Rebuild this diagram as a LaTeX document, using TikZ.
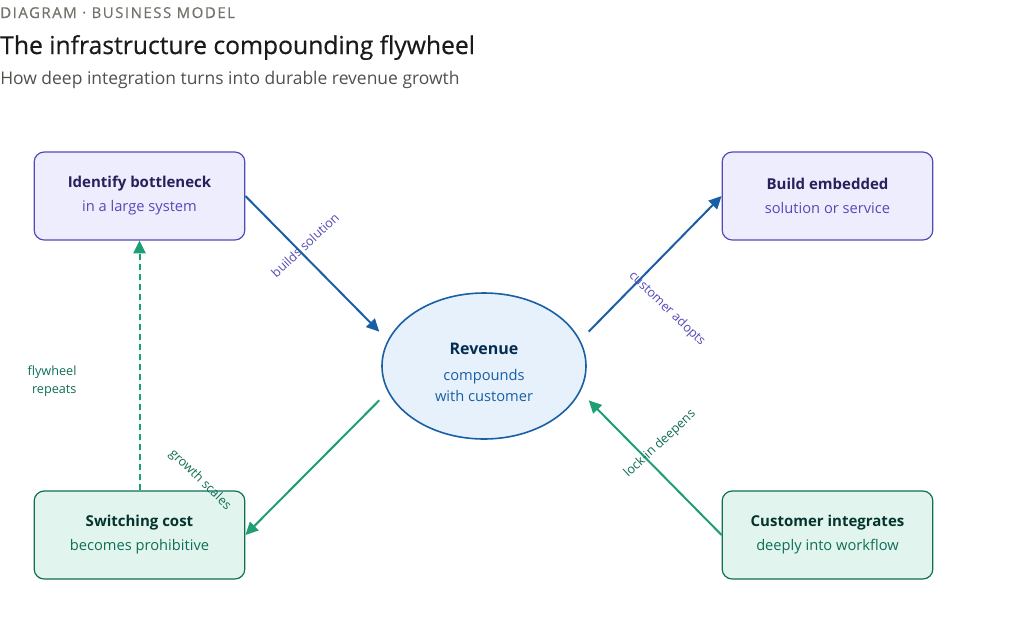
\documentclass[tikz,border=0pt]{standalone}
\usepackage{fontspec}
\setmainfont{Open Sans}
\usetikzlibrary{arrows.meta, positioning, shapes.geometric}

\definecolor{purplefill}{HTML}{EEEDFE}
\definecolor{purpleline}{HTML}{534AB7}
\definecolor{purpledark}{HTML}{26215C}
\definecolor{tealfill}{HTML}{E1F5EE}
\definecolor{tealline}{HTML}{0F6E56}
\definecolor{tealdark}{HTML}{04342C}
\definecolor{tealarrow}{HTML}{1D9E75}
\definecolor{bluefill}{HTML}{E6F1FB}
\definecolor{blueline}{HTML}{185FA5}
\definecolor{bluedark}{HTML}{042C53}
\definecolor{headgray}{HTML}{73726C}
\definecolor{inkblack}{HTML}{1A1A1A}

\begin{document}
\begin{tikzpicture}[
  x=0.75pt, y=-0.75pt,
  >={Triangle[length=9.5pt,width=9pt]},
  font=\fontsize{10.5pt}{13pt}\selectfont,
  card/.style={
    rectangle, rounded corners=7.5pt,
    draw, line width=0.9pt, align=center,
    inner sep=0pt,
    minimum width=158pt, minimum height=66pt,
  },
  idea/.style={card, fill=purplefill, draw=purpleline},
  sticky/.style={card, fill=tealfill, draw=tealline},
  hub/.style={ellipse, fill=bluefill, draw=blueline, line width=1.2pt,
    align=center, inner sep=0pt, minimum width=153pt, minimum height=109.5pt,
    font=\fontsize{11pt}{15.75pt}\selectfont},
  blueflow/.style={->, line width=1.5pt, draw=blueline, fill=blueline},
  tealflow/.style={->, line width=1.5pt, draw=tealarrow, fill=tealarrow},
  purplelbl/.style={text=purpleline, font=\fontsize{9.5pt}{11pt}\selectfont, inner sep=1pt},
  teallbl/.style={text=tealline, font=\fontsize{9.5pt}{11pt}\selectfont, inner sep=1pt},
]
\useasboundingbox (0,0) rectangle (1024,622);

% --- Header ---
\node[anchor=base west, inner sep=0pt, text=headgray,
  font=\fontsize{11.25pt}{12pt}\selectfont\addfontfeature{LetterSpace=10,FakeBold=0.4}]
  (kicker) at (0,18) {DIAGRAM · BUSINESS MODEL};
\node[anchor=base west, inner sep=0pt, text=inkblack,
  font=\fontsize{18.5pt}{20pt}\selectfont\addfontfeature{FakeBold=0.5}]
  (title) at (0,54) {The infrastructure compounding flywheel};
\node[anchor=base west, inner sep=0pt, text=headgray!70!black,
  font=\fontsize{13.1pt}{15pt}\selectfont]
  (subtitle) at (0,84) {How deep integration turns into durable revenue growth};

% --- Cards ---
\node[idea] (ID) at (139.5,196) {{\fontsize{11.25pt}{13pt}\selectfont\bfseries\color{purpledark}Identify bottleneck}\\[5pt]{\fontsize{11pt}{13pt}\selectfont\color{purpleline}in a large system}};
\node[idea] (BE) at (827.5,196) {{\fontsize{11.25pt}{13pt}\selectfont\bfseries\color{purpledark}Build embedded}\\[5pt]{\fontsize{11pt}{13pt}\selectfont\color{purpleline}solution or service}};
\node[sticky] (SC) at (139.5,535) {{\fontsize{11.25pt}{13pt}\selectfont\bfseries\color{tealdark}Switching cost}\\[5pt]{\fontsize{11pt}{13pt}\selectfont\color{tealline}becomes prohibitive}};
\node[sticky] (CI) at (827.5,535) {{\fontsize{11.25pt}{13pt}\selectfont\bfseries\color{tealdark}Customer integrates}\\[5pt]{\fontsize{11pt}{13pt}\selectfont\color{tealline}deeply into workflow}};

% --- Hub ---
\node[hub] (REV) at (484,366) {\rule{0pt}{17.5pt}{\fontsize{12pt}{14pt}\selectfont\bfseries\color{bluedark}Revenue}\\[3.75pt]{\color{blueline}compounds}\\{\color{blueline}with customer}};

% --- Arrows ---
\draw[blueflow, shorten >=9pt] (ID.east) -- (REV.165);
\draw[blueflow, shorten <=9pt] (REV.15) -- (BE.west);
\draw[tealflow, shorten >=9pt] (CI.west) -- (REV.-15);
\draw[tealflow, shorten <=9pt] (REV.195) -- (SC.east);
\draw[->, line width=1.5pt, draw=tealarrow, fill=tealarrow,
  dash pattern=on 4.5pt off 3pt] (SC.north) -- (ID.south);

% --- Labels ---
\node[purplelbl, rotate=43] (Lbuild) at (305,245) {builds solution};
\node[purplelbl, rotate=-44] (Ladopt) at (667,309) {customer adopts};
\node[teallbl, rotate=43] (Llock) at (660,444) {lock-in deepens};
\node[teallbl, rotate=-44] (Lgrow) at (200,480) {growth scales};
\node[teallbl, align=right, font=\fontsize{9.5pt}{14pt}\selectfont] (Lrep) at (52,381) {flywheel\\repeats};

\end{tikzpicture}
\end{document}
